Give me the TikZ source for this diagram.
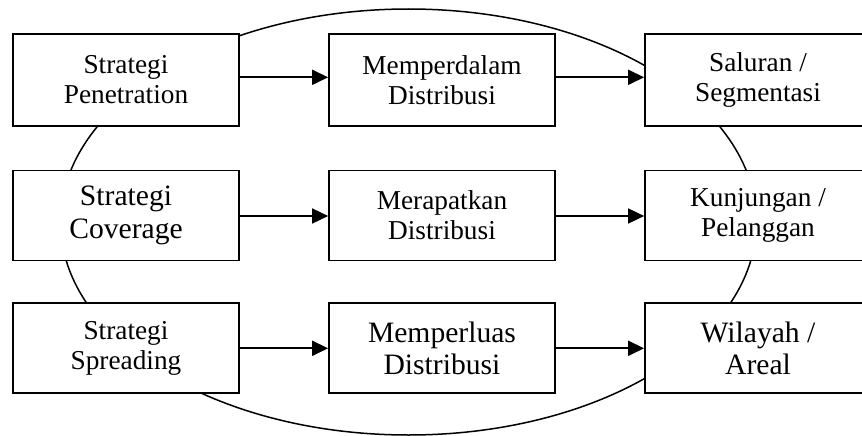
\documentclass[tikz,border=0pt]{standalone}
\usepackage{fontspec}
\setmainfont{Liberation Serif}
\usetikzlibrary{arrows.meta}
\begin{document}
\begin{tikzpicture}[x=1pt,y=-1pt,
  box/.style={draw, fill=white, line width=1.7pt, minimum width=226pt,
    minimum height=90pt, inner sep=0pt, align=center,
    font=\fontsize{27.3}{30}\selectfont},
  bigtext/.style={font=\fontsize{29.6}{32.7}\selectfont},
  flow/.style={line width=1.7pt, -{Triangle[length=16pt,width=15pt]}},
  ring/.style={line width=1.5pt}]
\useasboundingbox (0,0) rectangle (862,436);
\clip (0,0) rectangle (862,436);

% enclosing ellipse behind the boxes
\draw[ring] (408.5,222) ellipse [x radius=348pt, y radius=213pt];

% strategies
\node[box, minimum height=91.4pt] (s1) at (126,80)    {Strategi\\Penetration};
\node[box, bigtext]                (s2) at (126,215.5) {Strategi\\Coverage};
\node[box]                         (s3) at (126,348.3) {Strategi\\Spreading};

% distribution actions
\node[box, minimum height=91.4pt] (m1) at (442,80)    {Memperdalam\\Distribusi};
\node[box]                         (m2) at (442,215.5) {Merapatkan\\Distribusi};
\node[box, bigtext]                (m3) at (442,348.3) {Memperluas\\Distribusi};

% targets
\node[box, minimum height=91.4pt] (t1) at (758,80)    {Saluran /\\Segmentasi};
\node[box]                         (t2) at (758,215.5) {Kunjungan /\\Pelanggan};
\node[box, bigtext]                (t3) at (758,348.3) {Wilayah /\\Areal};

% flows
\draw[flow] ([yshift=2.7pt]s1.east) -- ([yshift=2.7pt]m1.west);
\draw[flow] ([yshift=2.7pt]m1.east) -- ([yshift=2.7pt]t1.west);
\draw[flow] ([yshift=-0.5pt]s2.east) -- ([yshift=-0.5pt]m2.west);
\draw[flow] ([yshift=-0.5pt]m2.east) -- ([yshift=-0.5pt]t2.west);
\draw[flow] (s3) -- (m3);
\draw[flow] (m3) -- (t3);
\end{tikzpicture}
\end{document}
